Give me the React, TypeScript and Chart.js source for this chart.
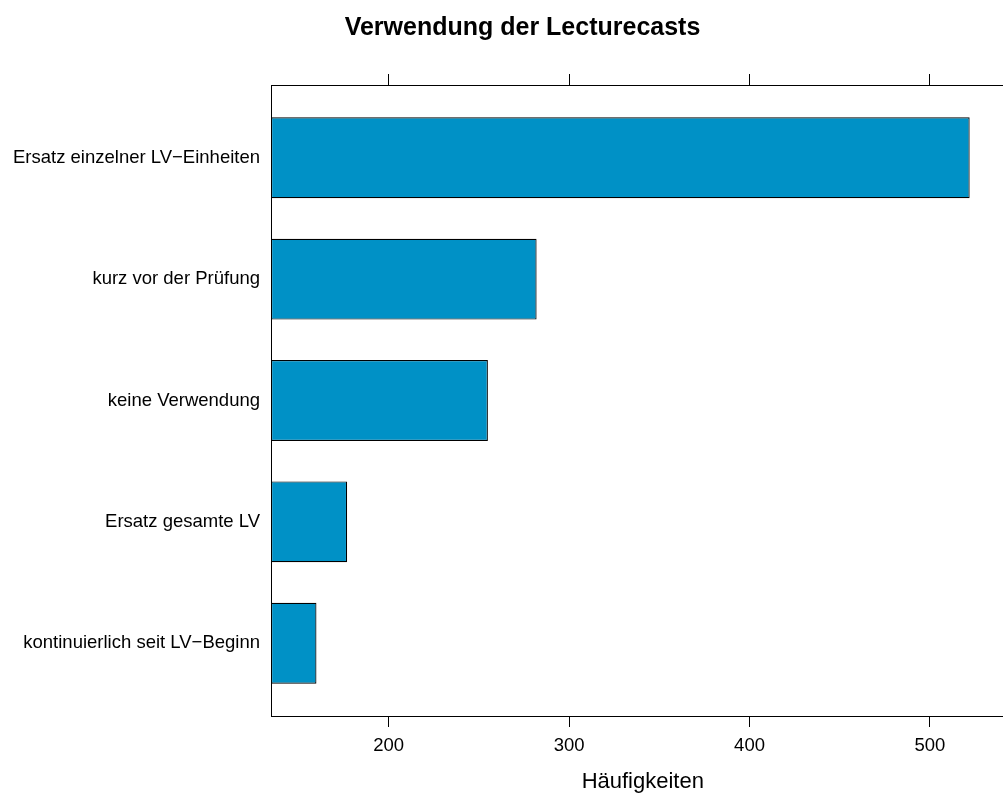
import React, { useEffect, useRef } from "react";
import { Chart, registerables } from "chart.js";

Chart.register(...registerables);

// Data (top to bottom as displayed)
const CATEGORIES = [
  "Ersatz einzelner LV\u2212Einheiten",
  "kurz vor der Prüfung",
  "keine Verwendung",
  "Ersatz gesamte LV",
  "kontinuierlich seit LV\u2212Beginn",
];
const COUNTS = [522, 282, 255, 177, 160];
const X_TICKS = [200, 300, 400, 500];
const X_MIN = 134.8;
const X_MAX = 546.9;
const TITLE = "Verwendung der Lecturecasts";
const X_LABEL = "Häufigkeiten";

const FONT = "'Liberation Sans', Arial, Helvetica, sans-serif";
const W = 1045;
const H = 796;

export default function App() {
  const ref = useRef<HTMLCanvasElement | null>(null);

  useEffect(() => {
    const canvas = ref.current;
    if (!canvas) return;
    const n = CATEGORIES.length;
    const data = COUNTS.map((v, i) => ({ x: v, y: n - i }));
    const labelFor = (v: number) => {
      const idx = n - Math.round(v);
      return CATEGORIES[idx] ?? "";
    };
    const chart = new Chart(canvas, {
      type: "bar",
      data: {
        datasets: [
          {
            data: data as any,
            base: X_MIN,
            backgroundColor: "#0091C6",
            borderColor: "#000000",
            borderWidth: 1.2,
            borderSkipped: false,
            barPercentage: 2 / 3,
            categoryPercentage: 1,
            xAxisID: "x",
            yAxisID: "y",
          } as any,
        ],
      },
      options: {
        indexAxis: "y",
        animation: false,
        responsive: false,
        maintainAspectRatio: false,
        layout: { padding: { left: 0, right: 0, top: 0, bottom: 0 } },
        plugins: {
          legend: { display: false },
          tooltip: { enabled: false },
          title: {
            display: true,
            text: TITLE,
            color: "#000",
            font: { family: FONT, size: 25, weight: "bold", lineHeight: 1.2 },
            padding: { top: 12.8, bottom: 31.2 },
          },
        },
        scales: {
          x: {
            type: "linear",
            position: "bottom",
            min: X_MIN,
            max: X_MAX,
            afterBuildTicks: (s: any) => {
              s.ticks = X_TICKS.map((v) => ({ value: v }));
            },
            afterFit: (s: any) => {
              s.height = 80;
            },
            grid: {
              display: true,
              drawOnChartArea: false,
              drawTicks: true,
              tickLength: 11,
              color: "#000",
              lineWidth: 1,
            },
            border: { display: true, color: "#000", width: 1 },
            ticks: {
              color: "#000",
              font: { family: FONT, size: 18.5 },
              padding: 8,
              maxRotation: 0,
              autoSkip: false,
            },
            title: {
              display: true,
              text: X_LABEL,
              color: "#000",
              font: { family: FONT, size: 22, lineHeight: 1.2 },
              padding: { top: 0, bottom: 0.6 },
            },
          },
          x2: {
            type: "linear",
            axis: "x",
            position: "top",
            min: X_MIN,
            max: X_MAX,
            afterBuildTicks: (s: any) => {
              s.ticks = X_TICKS.map((v) => ({ value: v }));
            },
            afterFit: (s: any) => {
              s.height = 11;
            },
            grid: {
              display: true,
              drawOnChartArea: false,
              drawTicks: true,
              tickLength: 11,
              color: "#000",
              lineWidth: 1,
            },
            border: { display: true, color: "#000", width: 1 },
            ticks: { display: false },
          },
          y: {
            type: "linear",
            position: "left",
            offset: false,
            min: 0.4,
            max: n + 0.6,
            afterBuildTicks: (s: any) => {
              s.ticks = CATEGORIES.map((_, i) => ({ value: i + 1 }));
            },
            afterFit: (s: any) => {
              s.width = 271;
            },
            grid: { display: false, drawTicks: false, tickLength: 0, offset: false },
            border: { display: true, color: "#000", width: 1 },
            ticks: {
              color: "#000",
              font: { family: FONT, size: 18.5 },
              padding: 11,
              autoSkip: false,
              callback: (v: any) => labelFor(Number(v)),
            },
          },
          yPad: {
            type: "linear",
            axis: "y",
            position: "right",
            min: 0,
            max: 1,
            afterFit: (s: any) => {
              s.width = 30.4;
            },
            grid: { display: false, drawTicks: false },
            border: { display: false },
            ticks: { display: false },
          },
        },
      },
    } as any);
    return () => chart.destroy();
  }, []);

  return (
    <div
      style={{
        position: "fixed",
        left: 0,
        top: 0,
        width: 1003,
        height: H,
        overflow: "hidden",
        background: "#fff",
      }}
    >
      <canvas ref={ref} width={W} height={H} style={{ display: "block", width: W, height: H }} />
    </div>
  );
}
